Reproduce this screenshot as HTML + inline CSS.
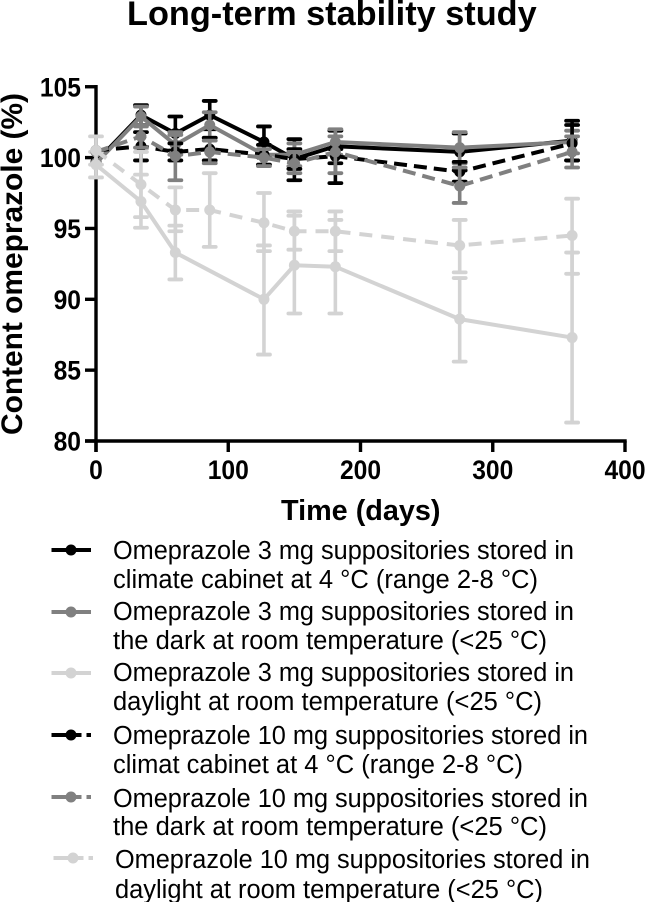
<!DOCTYPE html>
<html>
<head>
<meta charset="utf-8">
<title>Long-term stability study</title>
<style>
html,body{margin:0;padding:0;background:#fff;}
svg{display:block;}
text{font-family:"Liberation Sans",Arial,sans-serif;fill:#000;}
.tick{font-weight:bold;font-size:27px;}
.leg{font-size:25.5px;}
</style>
</head>
<body>
<svg id="chart" width="646" height="902" viewBox="0 0 646 902" xmlns="http://www.w3.org/2000/svg">
  <rect width="646" height="902" fill="#fff"/>
  <text x="127" y="25" font-size="34.3" font-weight="bold">Long-term stability study</text>
  <text transform="translate(22,435) rotate(-90)" font-size="29.5" font-weight="bold" textLength="342" lengthAdjust="spacingAndGlyphs">Content omeprazole (%)</text>
  <text x="281" y="520" font-size="28.8" font-weight="bold">Time (days)</text>
  <g id="axes"></g>
  <g id="plot"></g>

  <g>
    <g id="legend-keys"></g>
    <g>
      <text class="leg" x="113" y="559" textLength="461" lengthAdjust="spacingAndGlyphs">Omeprazole 3 mg suppositories stored in</text>
      <text class="leg" x="113" y="588" textLength="425" lengthAdjust="spacingAndGlyphs">climate cabinet at 4 °C (range 2-8 °C)</text>
    </g>
    <g>
      <text class="leg" x="113" y="620" textLength="461" lengthAdjust="spacingAndGlyphs">Omeprazole 3 mg suppositories stored in</text>
      <text class="leg" x="113" y="649" textLength="434" lengthAdjust="spacingAndGlyphs">the dark at room temperature (&lt;25 °C)</text>
    </g>
    <g>
      <text class="leg" x="113" y="681" textLength="461" lengthAdjust="spacingAndGlyphs">Omeprazole 3 mg suppositories stored in</text>
      <text class="leg" x="113" y="710" textLength="429" lengthAdjust="spacingAndGlyphs">daylight at room temperature (&lt;25 °C)</text>
    </g>
    <g>
      <text class="leg" x="113" y="744" textLength="475" lengthAdjust="spacingAndGlyphs">Omeprazole 10 mg suppositories stored in</text>
      <text class="leg" x="113" y="773" textLength="410" lengthAdjust="spacingAndGlyphs">climat cabinet at 4 °C (range 2-8 °C)</text>
    </g>
    <g>
      <text class="leg" x="113" y="807" textLength="475" lengthAdjust="spacingAndGlyphs">Omeprazole 10 mg suppositories stored in</text>
      <text class="leg" x="113" y="835" textLength="434" lengthAdjust="spacingAndGlyphs">the dark at room temperature (&lt;25 °C)</text>
    </g>
    <g>
      <text class="leg" x="115" y="868" textLength="475" lengthAdjust="spacingAndGlyphs">Omeprazole 10 mg suppositories stored in</text>
      <text class="leg" x="115" y="898" textLength="428" lengthAdjust="spacingAndGlyphs">daylight at room temperature (&lt;25 °C)</text>
    </g>
  </g>
</svg>
<script>
const days = [0, 34, 60, 86, 127, 150, 181, 275, 360];
const xTicks = [0, 100, 200, 300, 400];
const yTicks = [80, 85, 90, 95, 100, 105];

const mean3Cabinet  = [99.7, 103.0, 101.7, 103.0, 101.1, 99.9, 100.8, 100.4, 101.2];
const upper3Cabinet = [99.7, 103.7, 102.9, 104.0, 102.2, 101.3, 101.9, 101.7, 102.6];
const lower3Cabinet = [99.7, 102.3, 100.5, 102.0, 100.0, 98.4, 98.2, 99.1, 99.8];

const mean3Dark  = [99.6, 102.9, 100.9, 102.3, 100.2, 100.2, 101.1, 100.7, 101.1];
const upper3Dark = [99.6, 103.6, 101.6, 103.2, 100.9, 101.0, 102.0, 101.8, 101.9];
const lower3Dark = [99.6, 102.2, 100.2, 101.4, 99.5, 99.4, 100.2, 99.6, 100.3];

const mean3Day  = [99.5, 96.9, 93.3, null, 90.0, 92.4, 92.3, 88.6, 87.3];
const upper3Day = [100.4, 98.8, 95.2, null, 93.8, 95.9, 95.6, 91.5, 93.3];
const lower3Day = [98.6, 95.05, 91.4, null, 86.1, 89.0, 89.0, 85.6, 81.3];

const mean10Cabinet  = [100.5, 100.8, 100.4, 100.6, 100.2, 99.9, 100.1, 99.0, 101.0];
const upper10Cabinet = [100.5, 101.8, 101.0, 101.4, 100.9, 100.6, 100.6, 99.7, 102.3];
const lower10Cabinet = [100.5, 99.8, 99.8, 99.8, 99.5, 99.2, 99.6, 98.3, 99.8];

const mean10Dark  = [100.4, 101.5, 100.1, 100.4, 100.0, 99.6, 100.4, 98.0, 100.4];
const upper10Dark = [100.4, 102.3, 101.8, 101.2, 100.6, 100.4, 101.5, 99.3, 101.5];
const lower10Dark = [100.4, 100.7, 98.4, 99.6, 99.4, 98.9, 98.9, 96.8, 99.3];

const mean10Day  = [100.5, 98.1, 96.3, 96.3, 95.4, 94.8, 94.8, 93.8, 94.5];
const upper10Day = [101.5, 100.4, 97.9, 98.9, 97.5, 96.2, 96.2, 95.6, 97.1];
const lower10Day = [99.5, 95.8, 94.8, 93.7, 93.4, 93.5, 93.4, 91.9, 91.8];

const seriesNames = ['3mg-cabinet', '3mg-dark', '3mg-daylight', '10mg-cabinet', '10mg-dark', '10mg-daylight'];
const seriesMeans = [mean3Cabinet, mean3Dark, mean3Day, mean10Cabinet, mean10Dark, mean10Day];
const seriesUppers = [upper3Cabinet, upper3Dark, upper3Day, upper10Cabinet, upper10Dark, upper10Day];
const seriesLowers = [lower3Cabinet, lower3Dark, lower3Day, lower10Cabinet, lower10Dark, lower10Day];
const seriesColors = ['#000000', '#808080', '#d3d3d3', '#000000', '#808080', '#d3d3d3'];
const seriesDashes = ['', '', '', '13 7', '13 7', '13 9'];
const legendKeyY = [550, 612, 673, 735, 797, 858];
const legendKeyX = [71, 71, 71, 71, 71, 73];

const NS = 'http://www.w3.org/2000/svg';
function xScale(v) { return 96 + v * 1.3225; }
function yScale(v) { return 441 - (v - 80) * 14.17; }
function mk(parent, tag, attrs) {
  const el = document.createElementNS(NS, tag);
  for (const k in attrs) el.setAttribute(k, attrs[k]);
  parent.appendChild(el);
  return el;
}
function tickWidth(t) { return String(t).length * 13.7; }

const axes = document.getElementById('axes');
const yAxisLine = mk(axes, 'line', {x1: xScale(0), x2: xScale(0), y1: yScale(105) - 1.7, y2: yScale(80) + 11, stroke: '#000', 'stroke-width': 3.4});


const xAxisLine = mk(axes, 'line', {x1: xScale(0) - 11, x2: xScale(400) + 1.7, y1: yScale(80), y2: yScale(80), stroke: '#000', 'stroke-width': 3.4});



yTicks.forEach(function (t) {
  const mark = mk(axes, 'line', {x1: xScale(0) - 11, x2: xScale(0), y1: yScale(t), y2: yScale(t), stroke: '#000', 'stroke-width': 3.4});
  
  
  const label = mk(axes, 'text', {x: 81 - tickWidth(t), y: yScale(t) + 9.5, 'class': 'tick', textLength: tickWidth(t), lengthAdjust: 'spacingAndGlyphs'});
  
  
  label.textContent = t;
});
xTicks.forEach(function (t) {
  const mark = mk(axes, 'line', {x1: xScale(t), x2: xScale(t), y1: yScale(80), y2: yScale(80) + 11, stroke: '#000', 'stroke-width': 3.4});
  
  
  const label = mk(axes, 'text', {x: xScale(t) - tickWidth(t) / 2, y: 479, 'class': 'tick', textLength: tickWidth(t), lengthAdjust: 'spacingAndGlyphs'});
  
  
  label.textContent = t;
});

const plot = document.getElementById('plot');
seriesNames.forEach(function (name, s) {
  const g = mk(plot, 'g', {});
  
  
  const color = seriesColors[s];
  const means = seriesMeans[s];
  const pts = [];
  days.forEach(function (d, i) {
    if (means[i] === null) return;
    pts.push(xScale(d) + ',' + yScale(means[i]));
    if (seriesUppers[s][i] === seriesLowers[s][i]) return;
    const x = xScale(d);
    const top = yScale(seriesUppers[s][i]);
    const bot = yScale(seriesLowers[s][i]);
    const bar = mk(g, 'line', {x1: x, x2: x, y1: top, y2: bot, stroke: color, 'stroke-width': 3.6});
    
    
    [top, bot].forEach(function (cy) {
      const cap = mk(g, 'line', {x1: x - 6, x2: x + 6, y1: cy, y2: cy, stroke: color, 'stroke-width': 3.8, 'stroke-linecap': 'round'});
      
      
    });
  });
  const line = mk(g, 'polyline', {points: pts.join(' '), fill: 'none', stroke: color, 'stroke-width': 4, 'stroke-linejoin': 'miter'});
  if (seriesDashes[s]) line.setAttribute('stroke-dasharray', seriesDashes[s]);
  
  
  days.forEach(function (d, i) {
    if (means[i] === null) return;
    const pt = mk(g, 'circle', {cx: xScale(d), cy: yScale(means[i]), r: 5.5, fill: color});
    
    
  });
});

const keys = document.getElementById('legend-keys');
seriesNames.forEach(function (name, s) {
  const g = mk(keys, 'g', {});
  
  
  const cx = legendKeyX[s];
  const cy = legendKeyY[s];
  const attrs = {x1: cx - 19.5, x2: cx + 20, y1: cy, y2: cy, stroke: seriesColors[s], 'stroke-width': 4};
  if (seriesDashes[s]) attrs['stroke-dasharray'] = '30 5 4.5';
  const keyLine = mk(g, 'line', attrs);
  
  
  const keyDot = mk(g, 'circle', {cx: cx, cy: cy, r: 5.5, fill: seriesColors[s]});
  
  
});
</script>
</body>
</html>
